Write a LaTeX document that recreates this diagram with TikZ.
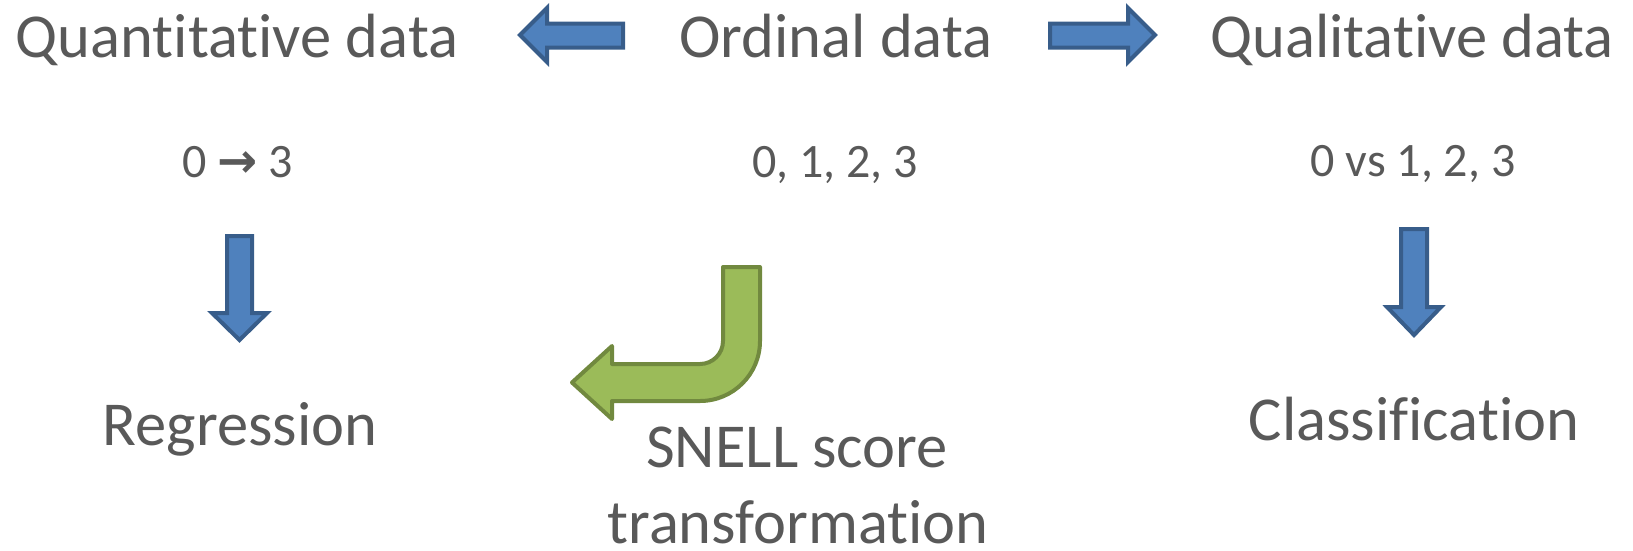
\documentclass[tikz,border=0pt]{standalone}
\usepackage{fontspec}
\setmainfont{Carlito}[RawFeature=-liga, RawFeature=-clig, RawFeature=-dlig, RawFeature=-calt, RawFeature=-rlig]
\newfontfamily\symfont{DejaVu Sans}
\definecolor{txt}{HTML}{595959}
\definecolor{bfill}{HTML}{4F81BD}
\definecolor{bdraw}{HTML}{385D8A}
\definecolor{gfill}{HTML}{9BBB59}
\definecolor{gdraw}{HTML}{71893F}
\tikzset{
  big/.style={anchor=base, inner sep=0pt, text=txt, font=\fontsize{62.5}{76}\selectfont},
  small/.style={anchor=base, inner sep=0pt, text=txt, font=\fontsize{48}{58}\selectfont},
  bluearrow/.style={fill=bfill, draw=bdraw, line width=4pt, line join=miter},
  greenarrow/.style={fill=gfill, draw=gdraw, line width=4pt, line join=round},
}
\begin{document}
\begin{tikzpicture}[x=1pt, y=-1pt]
\useasboundingbox (0,0) rectangle (1633,550);
% top labels
\node[big] (quant) at (237,57) {Quantitative data};
\node[big] (ord) at (836,57) {Ordinal data};
\node[big] (qual) at (1412,57) {Qualitative data};
% second row
\node[small] (r1) at (238,177) {0 {\symfont\bfseries\fontsize{48}{50}\selectfont →} 3};
\node[small] (r2) at (835,177) {0, 1, 2, 3};
\node[small] (r3) at (1413,176) {0 vs 1, 2, 3};
% bottom labels
\node[big] (reg) at (240,445) {Regression};
\node[big] (cls) at (1414,440) {Classification};
\node[big] (snell1) at (797,467) {SNELL score};
\node[big] (snell2) at (798,543) {transformation};
% left block arrow
\draw[bluearrow] (520,35) -- (547,8) -- (547,23.5) -- (623,23.5) -- (623,47.5) -- (547,47.5) -- (547,62) -- cycle;
% right block arrow
\draw[bluearrow] (1155,35) -- (1128,8) -- (1128,23.5) -- (1050,23.5) -- (1050,47.5) -- (1128,47.5) -- (1128,62) -- cycle;
% left down arrow
\draw[bluearrow] (239.5,340) -- (212,313) -- (227,313) -- (227,236) -- (252,236) -- (252,313) -- (267,313) -- cycle;
% right down arrow
\draw[bluearrow] (1414,335) -- (1387,307) -- (1401,307) -- (1401,229) -- (1427,229) -- (1427,307) -- (1441,307) -- cycle;
% green bent arrow
\draw[greenarrow] (723,267) -- (760,267) -- (760,341)
  .. controls (760,374.1) and (733.1,401) .. (700,401)
  -- (612,401) -- (612,419) -- (572,382.5) -- (612,346) -- (612,364) -- (700,364)
  .. controls (712.7,364) and (723,353.7) .. (723,341) -- cycle;
\end{tikzpicture}
\end{document}
